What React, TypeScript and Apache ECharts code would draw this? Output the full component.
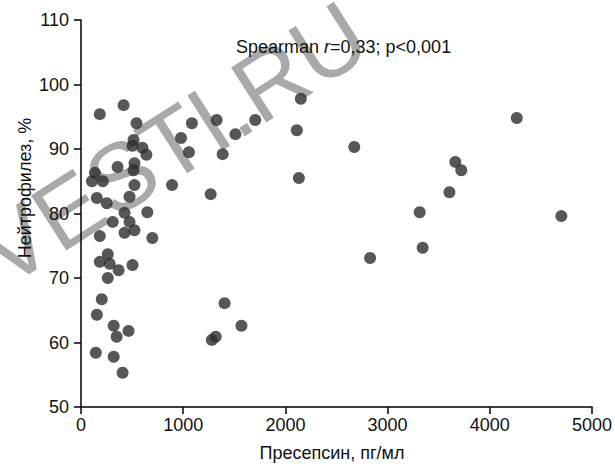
import React, { useEffect, useRef } from "react";
import * as echarts from "echarts";

const presepsin = [
  184, 417, 543, 514, 504, 601, 640, 358, 523, 514, 136, 107, 213, 523, 891,
  155, 252, 475, 649, 426, 310, 475, 523, 426, 184, 698, 262, 184, 281, 368,
  504, 262, 203, 155, 320, 465, 349, 145, 320, 407,
  979, 1085, 1327, 1705, 2151, 1511, 2112, 1056, 1386, 2132, 1269, 2674, 4264,
  3663, 3721, 3605, 3314, 4700, 3343, 2829, 1405, 1570, 1280, 1318,
];
const neutrophils = [
  95.4, 96.8, 94.0, 91.4, 90.5, 90.2, 89.1, 87.2, 87.8, 86.7, 86.3, 85.0, 85.0, 84.4, 84.4,
  82.4, 81.6, 82.6, 80.2, 80.1, 78.7, 78.7, 77.4, 77.0, 76.5, 76.2, 73.7, 72.5, 72.2, 71.2,
  72.0, 70.0, 66.7, 64.3, 62.6, 61.8, 60.9, 58.4, 57.8, 55.3,
  91.7, 94.0, 94.5, 94.5, 97.8, 92.3, 92.9, 89.5, 89.2, 85.5, 83.0, 90.3, 94.8,
  88.0, 86.7, 83.3, 80.2, 79.6, 74.7, 73.1, 66.1, 62.6, 60.4, 60.9,
];
const xTitle = "Пресепсин, пг/мл";
const yTitle = "Нейтрофилез, %";
const watermark = "VESTI.RU";

const FONT = "'Liberation Sans', Arial, Helvetica, sans-serif";

export default function App() {
  const ref = useRef<HTMLDivElement>(null);
  useEffect(() => {
    if (!ref.current) return;
    const chart = echarts.init(ref.current, undefined, { renderer: "svg" });
    const points = presepsin.map((x, i) => [x, neutrophils[i]]);
    const axisCommon = {
      type: "value" as const,
      axisLine: { show: true, lineStyle: { color: "#000", width: 1.5 } },
      axisTick: { show: true, length: 7, lineStyle: { color: "#000", width: 1.5 } },
      splitLine: { show: false },
    };
    const labelCommon = {
      fontSize: 18,
      color: "#111",
      fontFamily: FONT,
      formatter: (v: number) => String(v),
    };
    chart.setOption({
      animation: false,
      backgroundColor: "#fff",
      grid: { left: 81, right: 18, top: 20, bottom: 63, containLabel: false },
      xAxis: {
        ...axisCommon,
        min: 0,
        max: 5000,
        interval: 1000,
        axisLabel: { ...labelCommon, margin: 9 },
      },
      yAxis: {
        ...axisCommon,
        min: 50,
        max: 110,
        interval: 10,
        axisLabel: { ...labelCommon, margin: 12 },
      },
      graphic: {
        elements: [
          {
            type: "text",
            x: 173,
            y: 143,
            rotation: 0.569,
            z: 0,
            silent: true,
            style: {
              text: watermark,
              fontSize: 95,
              fontFamily: FONT,
              fill: "#a9a9a9",
              align: "center",
              verticalAlign: "middle",
            },
          },
          {
            type: "text",
            x: 236,
            y: 47,
            z: 100,
            style: {
              text: "{a|Spearman }{b|r}{a|=0,33; p<0,001}",
              verticalAlign: "middle",
              rich: {
                a: { fontSize: 18, fontFamily: FONT, fill: "#111" },
                b: { fontSize: 18, fontFamily: FONT, fill: "#111", fontStyle: "italic" },
              },
            },
          },
          {
            type: "text",
            x: 332,
            y: 453,
            z: 100,
            style: {
              text: xTitle,
              fontSize: 18,
              fontFamily: FONT,
              fill: "#111",
              align: "center",
              verticalAlign: "middle",
            },
          },
          {
            type: "text",
            x: 25,
            y: 188,
            rotation: Math.PI / 2,
            z: 100,
            style: {
              text: yTitle,
              fontSize: 18,
              fontFamily: FONT,
              fill: "#111",
              align: "center",
              verticalAlign: "middle",
            },
          },
        ],
      },
      series: [
        {
          type: "scatter",
          data: points,
          symbol: "circle",
          symbolSize: 12,
          z: 5,
          itemStyle: { color: "#2d2d30", opacity: 0.8 },
        },
      ],
    });
    return () => chart.dispose();
  }, []);
  return (
    <div
      ref={ref}
      style={{ position: "fixed", left: 0, top: 0, width: 615, height: 470 }}
    />
  );
}
